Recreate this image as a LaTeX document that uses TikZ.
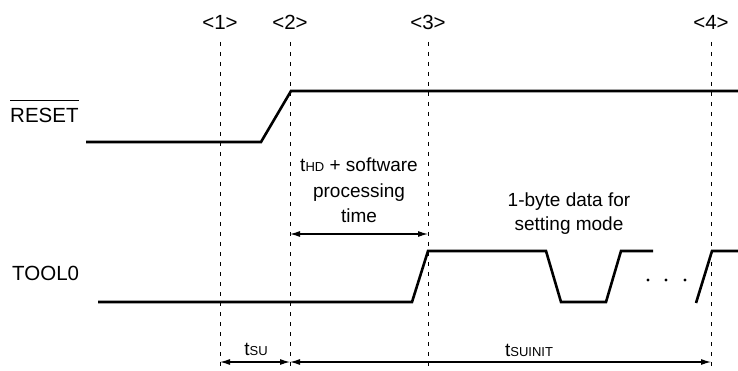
\documentclass[tikz,border=0pt]{standalone}
\usepackage{fontspec}
\setmainfont{Liberation Sans}
\usetikzlibrary{arrows.meta}
\newcommand{\subtxt}[1]{{\fontsize{13}{13}\selectfont #1}}
\begin{document}
\begin{tikzpicture}[x=1pt,y=-1pt,
  sig/.style={line width=2.6pt, line join=miter},
  guide/.style={line width=1pt, dash pattern=on 4pt off 6pt},
  dim/.style={line width=1.1pt, {Latex[length=10pt,width=6pt]}-{Latex[length=10pt,width=6pt]}},
  lbl/.style={font=\fontsize{20.5}{24}\selectfont, inner sep=0pt, anchor=base},
  ann/.style={font=\fontsize{19}{23}\selectfont, inner sep=0pt, anchor=base}]
\useasboundingbox (0,0) rectangle (738,371);

% guide lines
\coordinate (g1t) at (220,42); \coordinate (g1b) at (220,366);
\coordinate (g2t) at (290,42); \coordinate (g2b) at (290,369);
\coordinate (g3t) at (428,42); \coordinate (g3b) at (428,369);
\coordinate (g4t) at (711,42); \coordinate (g4b) at (711,369);
\draw[guide] (g1t) -- (g1b);
\draw[guide] (g2t) -- (g2b);
\draw[guide] (g3t) -- (g3b);
\draw[guide] (g4t) -- (g4b);

% marker labels
\node[lbl] (m1) at (220,30) {<1>};
\node[lbl] (m2) at (290,30) {<2>};
\node[lbl] (m3) at (428,30) {<3>};
\node[lbl] (m4) at (711,30) {<4>};

% signal names
\node[lbl, anchor=base west] (reset) at (10,123) {RESET};
\draw[line width=0.9pt] ([yshift=8pt]reset.north west) -- ([yshift=8pt]reset.north east);
\node[lbl, anchor=base west] (tool) at (12,280) {TOOL0};

% waveforms
\draw[sig] (86,142) -- (261,142) -- (291,91) -- (738,91);
\draw[sig] (98,302) -- (412,302) -- (428,251) -- (546,251) -- (561,302) -- (606,302) -- (621,251) -- (653,251);
\draw[sig] (696,303) -- (712,251) -- (738,251);
\fill (648,280) circle (1.6pt);
\fill (666,280) circle (1.6pt);
\fill (685,280) circle (1.6pt);

% dimension arrows
\coordinate (a2) at (290,234); \coordinate (a3) at (428,234);
\draw[dim] (a2) -- (a3);
\coordinate (b1) at (220,362); \coordinate (b2) at (290,362); \coordinate (b4) at (711,362);
\draw[dim] (b1) -- (b2);
\draw[dim] (b2) -- (b4);

% annotations
\node[ann] (thd) at (359,172) {t\subtxt{HD} + software};
\node[ann] (proc) at (359,198) {processing};
\node[ann] (time) at (359,223) {time};
\node[ann] (byte) at (569,207) {1-byte data for};
\node[ann] (mode) at (569,231) {setting mode};
\node[ann] (tsu) at (256,355) {t\subtxt{SU}};
\node[ann] (tsuinit) at (529,356) {t\subtxt{SUINIT}};
\end{tikzpicture}
\end{document}
